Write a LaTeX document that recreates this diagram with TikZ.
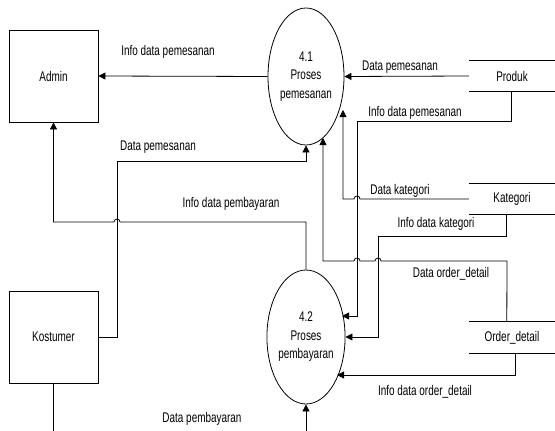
\documentclass[tikz,border=0pt]{standalone}
\usepackage{fontspec}
\setmainfont{Liberation Sans}[FakeStretch=0.71]
\usetikzlibrary{arrows.meta,shapes.geometric}
\tikzset{
  every node/.style={font=\fontsize{14}{18.5}\selectfont, inner sep=0pt},
  box/.style={draw, rectangle, line width=0.8pt, minimum width=89pt, minimum height=92pt},
  proc/.style={draw, ellipse, line width=0.8pt, minimum width=76pt, align=center},
  store/.style={rectangle, minimum width=86pt},
  lbl/.style={},
  conn/.style={line width=0.8pt},
  arr/.style={conn, -{Triangle[length=7pt,width=7pt]}},
  jmp/.style={}
}
\begin{document}
\begin{tikzpicture}[x=1pt,y=-1pt]
\path[use as bounding box, clip] (0,0) rectangle (555,431);
\fill[white] (0,0) rectangle (555,431);

% entities
\node[box] (admin) at (53.5,76) {Admin};
\node[box] (kost) at (53.5,337) {Kostumer};

% processes
\node[proc, minimum height=137pt] (e41) at (306,76.5) {4.1\\Proses\\pemesanan};
\node[proc, minimum height=134pt] (e42) at (306,337) {4.2\\Proses\\pembayaran};

% data stores
\node[store, minimum height=30pt] (produk) at (512,76) {Produk};
\node[store, minimum height=30pt] (kat) at (512,199) {Kategori};
\node[store, minimum height=31pt] (od) at (512,337.5) {Order\_detail};
\foreach \s in {produk,kat,od}{
  \draw[conn] (\s.north west) -- ([xshift=20pt]\s.north east);
  \draw[conn] (\s.south west) -- ([xshift=20pt]\s.south east);
}

% arrow end points on the ellipses
\coordinate (t1) at (342,316);
\coordinate (t2) at (343,110);
\coordinate (t3) at (323,138);
\coordinate (t4) at (337,375);
\coordinate (b1) at (53.5,445);
\coordinate (b2) at (306,445);

% connectors
\draw[arr] (e41.west) -- (admin.east);
\draw[arr] (produk.west) -- (e41.east);
\draw[arr] ([xshift=-1pt]produk.south) |- (357,121) |- (t1);
\draw[arr] (kat.west) -- (360,199) arc[start angle=0,end angle=180,radius=3pt] -- (343,199) -- (t2);
\draw[arr] ([xshift=38pt]kat.south west) |- (378,236) |- (e42.east);
\draw[arr] ([xshift=38pt]od.north west) -- (507,261) -- (381,261)
   arc[start angle=0,end angle=180,radius=3pt] -- (360,261)
   arc[start angle=0,end angle=180,radius=3pt] -- (323,261) -- (t3);
\draw[arr] ([xshift=47pt]od.south west) |- (t4);
\draw[arr] (kost.east) -| (117,161) -| (e41.south);
\draw[arr] (e42.north) -- (306,222) -- (120,222)
   arc[start angle=0,end angle=180,radius=3pt] -- (53.5,222) -- (admin.south);
\draw[arr] (kost.south) -- (b1) -- (b2) -- (e42.south);

% labels
\node[lbl] (l1) at (168,52) {Info data pemesanan};
\node[lbl] (l2) at (400,67) {Data pemesanan};
\node[lbl] (l3) at (415,113) {Info data pemesanan};
\node[lbl] (l4) at (400,191) {Data kategori};
\node[lbl] (l5) at (436,224) {Info data kategori};
\node[lbl] (l6) at (451,274) {Data order\_detail};
\node[lbl] (l7) at (425,392) {Info data order\_detail};
\node[lbl] (l8) at (158,147) {Data pemesanan};
\node[lbl] (l9) at (231,204) {Info data pembayaran};
\node[lbl] (l10) at (202,419) {Data pembayaran};
\end{tikzpicture}
\end{document}
